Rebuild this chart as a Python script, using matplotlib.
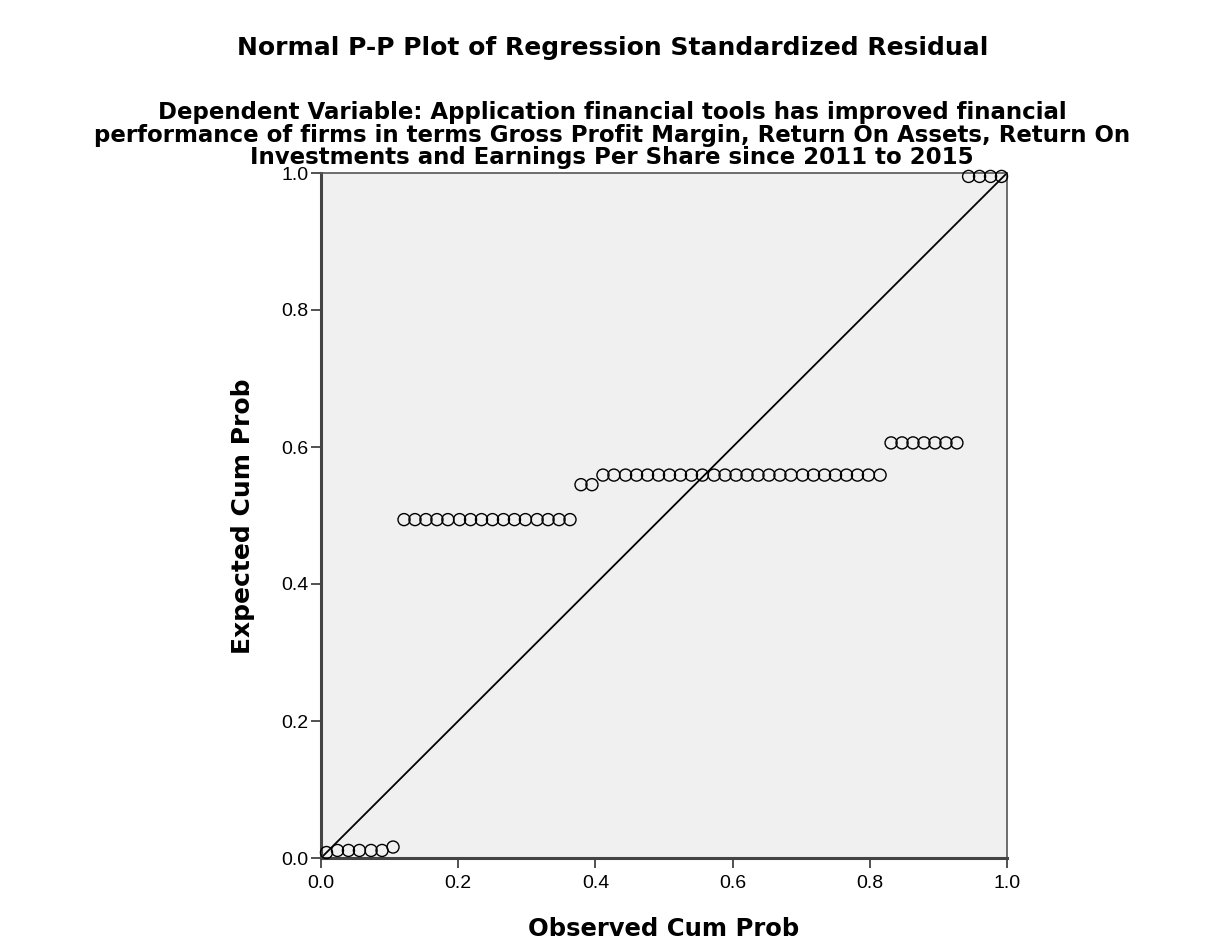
import matplotlib.pyplot as plt

# observed cumulative probability of each case (62 cases)
observed = [0.008, 0.024, 0.040, 0.056, 0.073, 0.089, 0.105,
            0.121, 0.137, 0.153, 0.169, 0.185, 0.202, 0.218, 0.234,
            0.250, 0.266, 0.282, 0.298, 0.315, 0.331, 0.347, 0.363,
            0.379, 0.395,
            0.411, 0.427, 0.444, 0.460, 0.476, 0.492, 0.508, 0.524,
            0.540, 0.556, 0.573, 0.589, 0.605, 0.621, 0.637, 0.653,
            0.669, 0.685, 0.702, 0.718, 0.734, 0.750, 0.766, 0.782,
            0.798, 0.815,
            0.831, 0.847, 0.863, 0.879, 0.895, 0.911, 0.927,
            0.944, 0.960, 0.976, 0.992]

# expected cumulative probability
expected = [0.008, 0.011, 0.011, 0.011, 0.011, 0.011, 0.016] + \
           [0.494] * 16 + \
           [0.545] * 2 + \
           [0.559] * 26 + \
           [0.606] * 7 + \
           [0.995] * 4

ticks = [0.0, 0.2, 0.4, 0.6, 0.8, 1.0]
tick_labels = ['0.0', '0.2', '0.4', '0.6', '0.8', '1.0']

title = 'Normal P-P Plot of Regression Standardized Residual'
subtitle = ('Dependent Variable: Application financial tools has improved financial\n'
            'performance of firms in terms Gross Profit Margin, Return On Assets, Return On\n'
            'Investments and Earnings Per Share since 2011 to 2015')

plt.rcParams['font.family'] = ['Liberation Sans', 'DejaVu Sans']
bold = ['DejaVu Sans']

W, H = 1223, 947
fig = plt.figure(figsize=(W / 100, H / 100), dpi=100)
ax = fig.add_axes([321 / W, 1 - 858 / H, 686 / W, 685 / H])
ax.set_facecolor('#f0f0f0')

ax.plot([0, 1], [0, 1], color='black', linewidth=1.3, zorder=2)
ax.scatter(observed, expected, s=75, facecolors='none', edgecolors='black',
           linewidths=1.0, zorder=3, clip_on=False)

ax.set_xlim(0, 1)
ax.set_ylim(0, 1)
ax.set_xticks(ticks)
ax.set_xticklabels(tick_labels)
ax.set_yticks(ticks)
ax.set_yticklabels(tick_labels)
ax.tick_params(direction='out', length=7, width=1.2, color='#333333',
               labelsize=14, pad=2)
ax.tick_params(axis='x', pad=5)
for side in ['left', 'bottom']:
    ax.spines[side].set_linewidth(2.2)
    ax.spines[side].set_color('#444444')
for side in ['top', 'right']:
    ax.spines[side].set_linewidth(1.2)
    ax.spines[side].set_color('#555555')

fig.text(664 / W, 1 - 929 / H, 'Observed Cum Prob', ha='center', va='center',
         fontsize=17.5, fontweight='bold', family=bold)
fig.text(243 / W, 1 - 516 / H, 'Expected Cum Prob', ha='center', va='center',
         rotation=90, fontsize=18, fontweight='bold', family=bold)

fig.text(613 / W, 1 - 48 / H, title, ha='center', va='center',
         fontsize=18, fontweight='bold', family=bold)
fig.text(612 / W, 1 - 135 / H, subtitle, ha='center', va='center',
         fontsize=16.5, fontweight='bold', family=bold, linespacing=0.96)

fig.savefig('out.png', dpi=100)
